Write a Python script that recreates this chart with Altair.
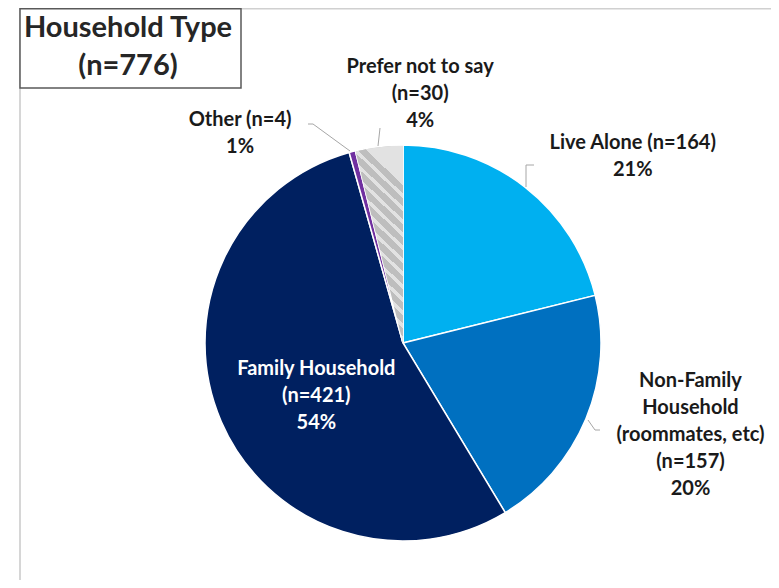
import altair as alt
import pandas as pd

# ---- data ----
categories = ["Live Alone", "Non-Family Household (roommates, etc)", "Family Household", "Other", "Prefer not to say"]
display_names = ["Live Alone", "Non-Family\nHousehold\n(roommates, etc)", "Family Household", "Other", "Prefer not to say"]
n_separators = [" ", "\n", "\n", " ", "\n"]
counts = [164, 157, 421, 4, 30]
slice_order = [1, 2, 3, 4, 5]
colors = ["#00B0F0", "#0070C0", "#002060", "#7030A0", "#C4C4C4"]
title_text = "Household Type"

total = sum(counts)
labels = [
    f"{name}{sep}(n={n})\n{round(n / total * 100)}%"
    for name, sep, n in zip(display_names, n_separators, counts)
]
df = pd.DataFrame({"cat": categories, "n": counts, "order": slice_order, "label": labels})

# ---- layout ----
W, H = 763, 572
CX, CY = 395, 335
R = 198
FONT = "Lato"

base = alt.Chart(df)

pie = base.mark_arc(outerRadius=R, stroke="white", strokeWidth=1.5).encode(
    theta=alt.Theta("n:Q", stack=True),
    color=alt.Color("cat:N", scale=alt.Scale(domain=categories, range=colors), legend=None),
    order=alt.Order("order:Q"),
    x=alt.value(CX),
    y=alt.value(CY),
)

# diagonal hatch for the "Prefer not to say" slice (striped gradient)
P = 16
stops = []
for k in range(P):
    stops += [
        alt.GradientStop(offset=k / P, color="#BEBEBE"),
        alt.GradientStop(offset=(k + 0.65) / P, color="#BEBEBE"),
        alt.GradientStop(offset=(k + 0.65) / P, color="#E2E2E2"),
        alt.GradientStop(offset=(k + 1) / P, color="#E2E2E2"),
    ]
hatch = base.mark_arc(
    outerRadius=R - 0.75,
    fill=alt.Gradient(gradient="linear", x1=0, y1=1, x2=0.23, y2=0, stops=stops),
).encode(
    theta=alt.Theta("n:Q", stack=True),
    order=alt.Order("order:Q"),
    detail="cat:N",
    opacity=alt.condition(alt.datum.cat == "Prefer not to say", alt.value(1), alt.value(0)),
    x=alt.value(CX),
    y=alt.value(CY),
)

# label placements: (category, radius, dx, dy, color)
placements = [
    ("Live Alone", 230, 88, -19, "#1a1a1a"),
    ("Non-Family Household (roommates, etc)", 230, 75, -50, "#1a1a1a"),
    ("Family Household", 101, 6, -14, "white"),
    ("Other", 230, -104, -1, "#1a1a1a"),
    ("Prefer not to say", 230, 45, -48, "#1a1a1a"),
]

text_layers = []
for cat, rr, dx, dy, col in placements:
    text_layers.append(
        base.mark_text(
            radius=rr, dx=dx, dy=dy, font=FONT, fontSize=20, fontWeight="bold",
            lineBreak="\n", lineHeight=27, align="center", baseline="middle", color=col,
        ).encode(
            theta=alt.Theta("n:Q", stack=True),
            order=alt.Order("order:Q"),
            detail="cat:N",
            text=alt.condition(alt.datum.cat == cat, "label:N", alt.value("")),
            x=alt.value(CX),
            y=alt.value(CY),
        )
    )

# leader lines (annotation decorations)
leaders = [
    (526, 187, 526, 165), (526, 165, 534, 165),
    (588, 420, 595, 430), (595, 430, 600, 430),
    (308, 124, 313, 124), (313, 124, 350, 151),
    (378, 146, 380, 128),
]
leader_layers = [
    alt.Chart(df.head(1)).mark_rule(color="#A6A6A6", strokeWidth=1).encode(
        x=alt.value(x1 - 8), y=alt.value(y1 - 8), x2=alt.value(x2 - 8), y2=alt.value(y2 - 8)
    )
    for x1, y1, x2, y2 in leaders
]

# frame lines and title box
frame_top = alt.Chart(df.head(1)).mark_rule(color="#D0D0D0", strokeWidth=1.5).encode(
    x=alt.value(12), x2=alt.value(W), y=alt.value(0.75), y2=alt.value(0.75)
)
frame_left = alt.Chart(df.head(1)).mark_rule(color="#C8C8C8", strokeWidth=1.5).encode(
    x=alt.value(12), x2=alt.value(12), y=alt.value(0), y2=alt.value(H)
)
title_box = alt.Chart(df.head(1)).mark_rect(fill="white", stroke="#595959", strokeWidth=1.5).encode(
    x=alt.value(12), x2=alt.value(233), y=alt.value(0.75), y2=alt.value(80)
)
title = alt.Chart(df.head(1)).mark_text(
    font=FONT, fontSize=29, fontWeight="bold", color="#262626", align="center",
    baseline="middle", lineBreak="\n", lineHeight=38,
).encode(
    text=alt.value(f"{title_text}\n(n={total})"),
    x=alt.value(120), y=alt.value(20),
)

chart = alt.layer(
    frame_top, frame_left, pie, hatch, *leader_layers, *text_layers, title_box, title
).properties(
    width=W, height=H, autosize=alt.AutoSizeParams(type="none"), padding=0
).configure_view(stroke=None)

chart.save("out.html", embed_options={"renderer": "svg", "actions": False})
